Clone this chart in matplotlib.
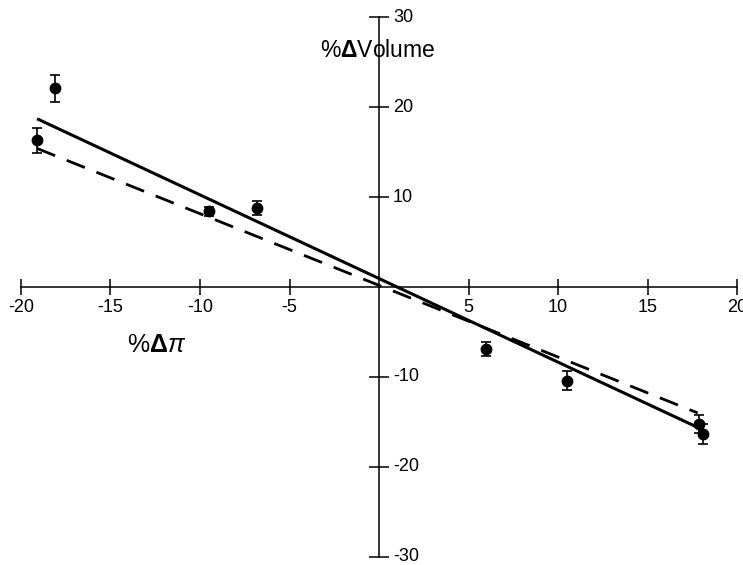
import matplotlib
matplotlib.use("Agg")
import matplotlib.pyplot as plt
import matplotlib.transforms as mtransforms

plt.rcParams['font.family'] = ['Liberation Sans', 'DejaVu Sans']
plt.rcParams['mathtext.fontset'] = 'custom'
plt.rcParams['mathtext.rm'] = 'Liberation Sans'
plt.rcParams['mathtext.it'] = 'Liberation Sans:italic'
plt.rcParams['mathtext.bf'] = 'Liberation Sans:bold'

# data
pi_change = [-19.1, -18.1, -9.5, -6.8, 6.0, 10.5, 17.9, 18.1]
vol_change = [16.3, 22.1, 8.4, 8.8, -6.9, -10.4, -15.2, -16.3]
vol_err = [1.4, 1.5, 0.5, 0.8, 0.8, 1.1, 1.0, 1.1]

solid_x = [-19.1, 17.9]
solid_y = [18.7, -15.7]
dashed_x = [-19.1, 17.8]
dashed_y = [15.4, -14.0]

xticks = [-20, -15, -10, -5, 5, 10, 15, 20]
yticks = [-30, -20, -10, 10, 20, 30]

fig = plt.figure(figsize=(7.43, 5.65), dpi=100)
ax = fig.add_axes([0, 0, 1, 1])
ax.set_xlim(-21.17, 20.33)
ax.set_ylim(-30.9, 31.9)

for s in ['top', 'right']:
    ax.spines[s].set_visible(False)
ax.spines['left'].set_position(('data', 0))
ax.spines['bottom'].set_position(('data', 0))
ax.spines['left'].set_bounds(-30, 30)
ax.spines['bottom'].set_bounds(-20, 20)
ax.spines['left'].set_linewidth(1.1)
ax.spines['bottom'].set_linewidth(1.1)

ax.set_xticks(xticks)
ax.set_xticklabels([str(t) for t in xticks])
ax.set_yticks(yticks)
ax.set_yticklabels([])
ax.tick_params(axis='x', direction='inout', length=11, width=1.1, labelsize=13, pad=3)
ax.tick_params(axis='y', direction='inout', length=14, width=1.1,
               left=True, right=False, labelleft=False, labelright=False)

# y tick labels placed just right of the centred vertical axis
trans = mtransforms.offset_copy(ax.transData, fig=fig, x=10, y=0, units='points')
for t in yticks:
    ax.text(0, t, str(t), transform=trans, fontsize=13, ha='left', va='center')

ax.plot(solid_x, solid_y, color='black', lw=2.2, solid_capstyle='butt')
ax.plot(dashed_x, dashed_y, color='black', lw=2.0, linestyle=(0, (7, 4.5)))

ax.errorbar(pi_change, vol_change, yerr=vol_err, fmt='o', color='black',
            markersize=7.5, capsize=3.6, elinewidth=1.2, capthick=1.2)

ax.text(-12.4, -6.4, '%$\\mathbf{\\Delta}\\pi$', fontsize=18, ha='center', va='center')
ax.text(-0.1, 26.3, '%$\\mathbf{\\Delta}$Volume', fontsize=16.5, ha='center', va='center')

fig.savefig('out.png', dpi=100)
